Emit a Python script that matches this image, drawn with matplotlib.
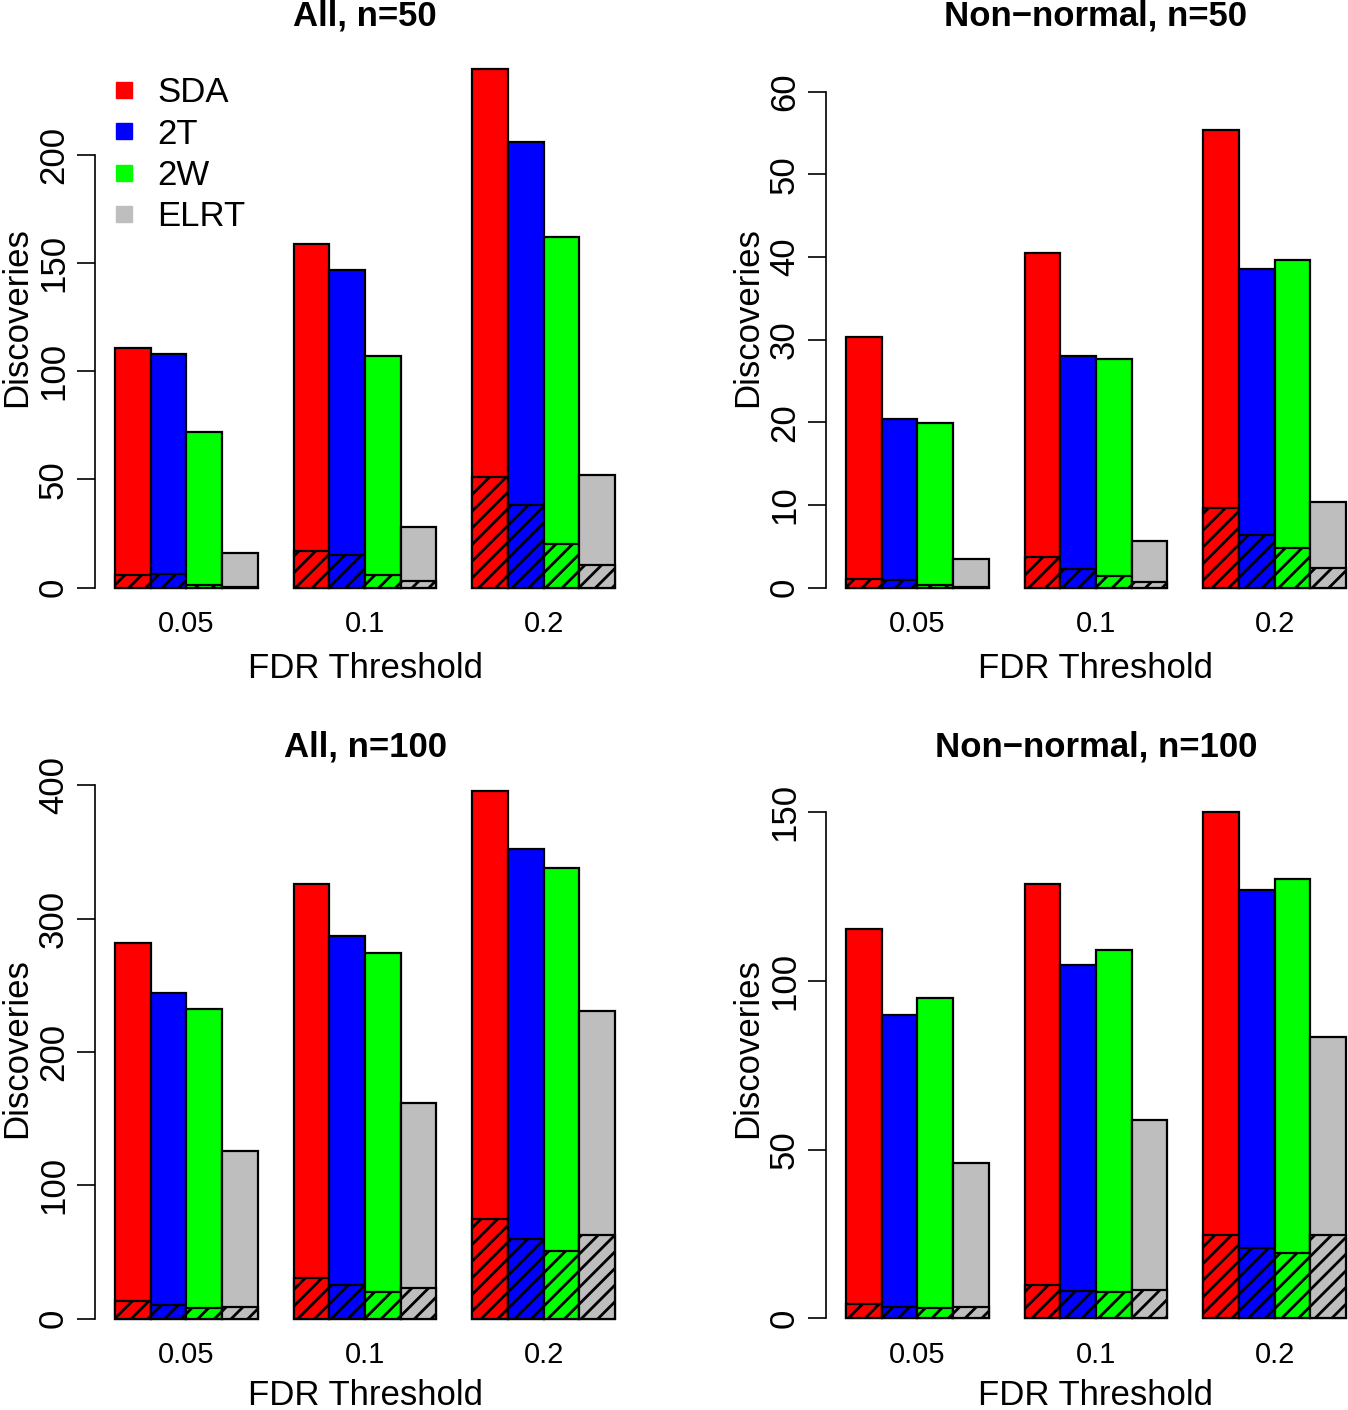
import matplotlib
matplotlib.use("Agg")
import matplotlib.pyplot as plt
from matplotlib.lines import Line2D

plt.rcParams['font.family'] = ['Liberation Sans', 'DejaVu Sans']
plt.rcParams['hatch.linewidth'] = 2.0

thresholds = ['0.05', '0.1', '0.2']
methods = ['SDA', '2T', '2W', 'ELRT']
colors = ['#FF0000', '#0000FF', '#00FF00', '#BEBEBE']

# rows = methods, columns = thresholds; total discoveries and false ones (hatched)
all50_total = [[111, 159, 240], [108, 147, 206], [72, 107, 162], [16, 28, 52]]
all50_false = [[6, 17, 51], [6.5, 15, 38], [1.4, 6, 20], [0.5, 3, 10.5]]
nn50_total = [[30.3, 40.5, 55.3], [20.4, 28.0, 38.5], [19.9, 27.7, 39.6], [3.4, 5.6, 10.3]]
nn50_false = [[1.05, 3.7, 9.6], [0.93, 2.3, 6.4], [0.3, 1.4, 4.8], [0.1, 0.65, 2.4]]
all100_total = [[282, 326, 396], [244, 287, 352], [232, 274, 338], [126, 162, 231]]
all100_false = [[13, 30.6, 75], [10.5, 25, 60], [8, 20, 50.6], [9, 22.6, 62.4]]
nn100_total = [[115.3, 128.7, 150], [89.8, 104.7, 126.9], [94.9, 109.1, 130.4], [46.2, 58.7, 83.3]]
nn100_false = [[4.2, 9.8, 24.6], [3.5, 8.2, 21], [3.1, 7.8, 19.5], [3.3, 8.4, 24.6]]

panels = [
    ('All, n=50', all50_total, all50_false, [0, 50, 100, 150, 200], (-9.9, 250)),
    ('Non\u2212normal, n=50', nn50_total, nn50_false, [0, 10, 20, 30, 40, 50, 60], (-2.6, 65.4)),
    ('All, n=100', all100_total, all100_false, [0, 100, 200, 300, 400], (-16.1, 405.5)),
    ('Non\u2212normal, n=100', nn100_total, nn100_false, [0, 50, 100, 150], (-6.4, 160.2)),
]

W, H = 1348, 1410
fig = plt.figure(figsize=(W / 100, H / 100), dpi=100)

# axes boxes in pixels: left, top, right, bottom
boxes = [(95, 47, 635, 609), (826, 47, 1366, 609),
         (95, 778, 635, 1340), (826, 778, 1366, 1340)]

for k, (title, total, false, yticks, ylim) in enumerate(panels):
    l, t, r, b = boxes[k]
    ax = fig.add_axes([l / W, 1 - b / H, (r - l) / W, (b - t) / H])
    ax.patch.set_alpha(0)
    for g in range(len(thresholds)):
        for j in range(len(methods)):
            x = 1 + g * 5 + j
            ax.bar(x, total[j][g], width=1, align='edge', color=colors[j],
                   edgecolor='black', linewidth=1.6)
            ax.bar(x, false[j][g], width=1, align='edge', color=colors[j],
                   edgecolor='black', linewidth=1.6, hatch='//')
    ax.set_xlim(0.44, 15.56)
    ax.set_ylim(*ylim)
    for s in ['top', 'right', 'bottom']:
        ax.spines[s].set_visible(False)
    ax.spines['left'].set_bounds(yticks[0], yticks[-1])
    ax.spines['left'].set_linewidth(1.2)
    ax.set_yticks(yticks)
    ax.set_yticklabels([str(v) for v in yticks])
    ax.tick_params(axis='y', labelrotation=90, length=13, width=1.2, pad=5, labelsize=25)
    for lab in ax.get_yticklabels():
        lab.set_va('center')
    ax.set_xticks([3 + g * 5 for g in range(len(thresholds))])
    ax.set_xticklabels(thresholds)
    ax.tick_params(axis='x', length=0, pad=1, labelsize=21)
    # bottom row label nudged up a little so it stays inside the figure
    ax.set_xlabel('FDR Threshold', fontsize=25, labelpad=10 if k < 2 else 7)
    ax.set_ylabel('Discoveries', fontsize=25)
    ax.yaxis.set_label_coords(-62 / (r - l), 0.52)
    ax.set_title(title, fontsize=25, fontweight='bold', y=1.0, pad=15.5)
    if k == 0:
        handles = [Line2D([], [], marker='s', color=c, linestyle='none', markersize=12)
                   for c in colors]
        ax.legend(handles, methods, loc='upper left', bbox_to_anchor=(-0.01, 0.985),
                  frameon=False, fontsize=25, handlelength=0.8, handletextpad=0.55,
                  labelspacing=0.24, borderaxespad=0.2)

fig.savefig('out.png', dpi=100)
